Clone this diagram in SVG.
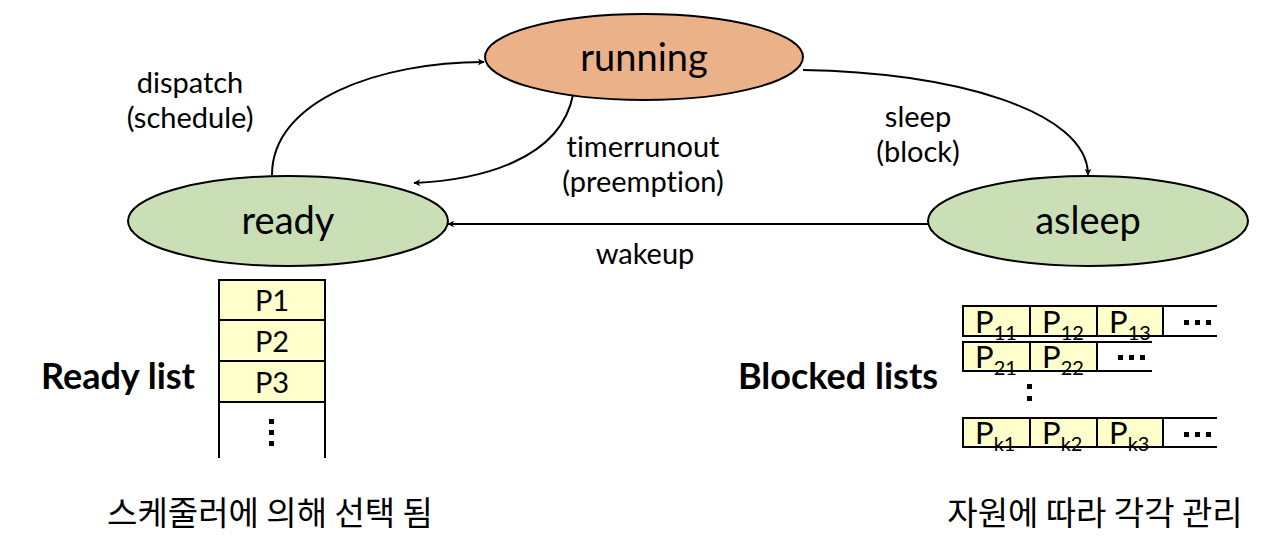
<svg xmlns="http://www.w3.org/2000/svg" width="1288" height="538" viewBox="0 0 1288 538">
<style>
text{font-family:Lato,"Noto Sans","Noto Sans CJK KR",sans-serif;fill:#000;font-variant-ligatures:none}
.node{font-size:38px;text-anchor:middle}
.lbl{font-size:29px;text-anchor:middle}
.pl{font-size:29px;text-anchor:middle}
.big{font-size:36px;font-weight:bold;text-anchor:middle}
.kr{font-family:"Noto Sans CJK KR",sans-serif;font-size:33px;text-anchor:middle}
.cell{fill:#FFFFCC;stroke:#000;stroke-width:2}
.ln{stroke:#000;stroke-width:2;fill:none}
.p{font-size:31px}
.s{font-size:20px}
.conn{fill:none;stroke:#000;stroke-width:2;marker-end:url(#ah)}
</style>
<defs>
<marker id="ah" viewBox="0 0 10 10" refX="9" refY="5" markerWidth="7" markerHeight="7" orient="auto" markerUnits="userSpaceOnUse">
<path d="M0,0 L10,5 L0,10 L3,5 z" fill="#000"/>
</marker>
</defs>
<g id="running"><ellipse cx="644" cy="57" rx="159" ry="43" fill="#EBB28A" stroke="#000" stroke-width="2"/><text class="node" x="644" y="71">running</text></g>
<g id="ready"><ellipse cx="288" cy="221" rx="160" ry="45" fill="#CBDFB7" stroke="#000" stroke-width="2"/><text class="node" x="288" y="234">ready</text></g>
<g id="asleep"><ellipse cx="1088" cy="221" rx="160" ry="45" fill="#CBDFB7" stroke="#000" stroke-width="2"/><text class="node" x="1088" y="234">asleep</text></g>
<g id="connectors">
<path class="conn" d="M272,175 C272,100 380,62 484,62"/>
<path class="conn" d="M573,95 C560,160 480,180 414,183"/>
<path class="conn" d="M803,70 C950,72 1088,110 1088,175"/>
<path class="conn" d="M928,224 L448,224"/>
<text class="lbl" x="190" y="93">dispatch</text>
<text class="lbl" x="190" y="128">(schedule)</text>
<text class="lbl" x="643" y="157">timerrunout</text>
<text class="lbl" x="643" y="192">(preemption)</text>
<text class="lbl" x="918" y="127">sleep</text>
<text class="lbl" x="918" y="162">(block)</text>
<text class="lbl" x="645" y="264">wakeup</text>
</g>
<g id="ready-list">
<rect class="cell" x="219" y="280" width="106" height="40"/>
<rect class="cell" x="219" y="320" width="106" height="41"/>
<rect class="cell" x="219" y="361" width="106" height="41"/>
<path class="ln" d="M219,402 V458 M325,402 V458"/>
<text class="pl" x="272" y="311">P1</text>
<text class="pl" x="272" y="352">P2</text>
<text class="pl" x="272" y="393">P3</text>
<rect x="269" y="419" width="5" height="5"/><rect x="269" y="430" width="5" height="5"/><rect x="269" y="441" width="5" height="5"/>
<text class="big" x="118" y="389">Ready list</text>
</g>
<g id="blocked-lists">
<text class="big" x="838" y="389">Blocked lists</text>
<rect class="cell" x="963" y="306" width="67" height="30"/>
<rect class="cell" x="1030" y="306" width="67" height="30"/>
<rect class="cell" x="1097" y="306" width="66" height="30"/>
<path class="ln" d="M1163,306 H1217 M1163,336 H1217"/>
<text x="975" y="333"><tspan class="p">P</tspan><tspan class="s" dy="7">11</tspan></text>
<text x="1042" y="333"><tspan class="p">P</tspan><tspan class="s" dy="7">12</tspan></text>
<text x="1109" y="333"><tspan class="p">P</tspan><tspan class="s" dy="7">13</tspan></text>
<rect x="1184" y="320" width="5" height="5"/><rect x="1195" y="320" width="5" height="5"/><rect x="1206" y="320" width="5" height="5"/>
<rect class="cell" x="963" y="342" width="67" height="29"/>
<rect class="cell" x="1030" y="342" width="67" height="29"/>
<path class="ln" d="M1097,342 H1152 M1097,371 H1152"/>
<text x="975" y="368"><tspan class="p">P</tspan><tspan class="s" dy="7">21</tspan></text>
<text x="1042" y="368"><tspan class="p">P</tspan><tspan class="s" dy="7">22</tspan></text>
<rect x="1118" y="355" width="5" height="5"/><rect x="1129" y="355" width="5" height="5"/><rect x="1140" y="355" width="5" height="5"/>
<rect x="1027" y="384" width="5" height="5"/><rect x="1027" y="396" width="5" height="5"/>
<rect class="cell" x="963" y="418" width="67" height="29"/>
<rect class="cell" x="1030" y="418" width="67" height="29"/>
<rect class="cell" x="1097" y="418" width="66" height="29"/>
<path class="ln" d="M1163,418 H1217 M1163,447 H1217"/>
<text x="975" y="444"><tspan class="p">P</tspan><tspan class="s" dy="7">k1</tspan></text>
<text x="1042" y="444"><tspan class="p">P</tspan><tspan class="s" dy="7">k2</tspan></text>
<text x="1109" y="444"><tspan class="p">P</tspan><tspan class="s" dy="7">k3</tspan></text>
<rect x="1184" y="432" width="5" height="5"/><rect x="1195" y="432" width="5" height="5"/><rect x="1206" y="432" width="5" height="5"/>
</g>
<text class="kr" x="270" y="525">스케줄러에 의해 선택 됨</text>
<text class="kr" x="1095" y="525">자원에 따라 각각 관리</text>
</svg>
